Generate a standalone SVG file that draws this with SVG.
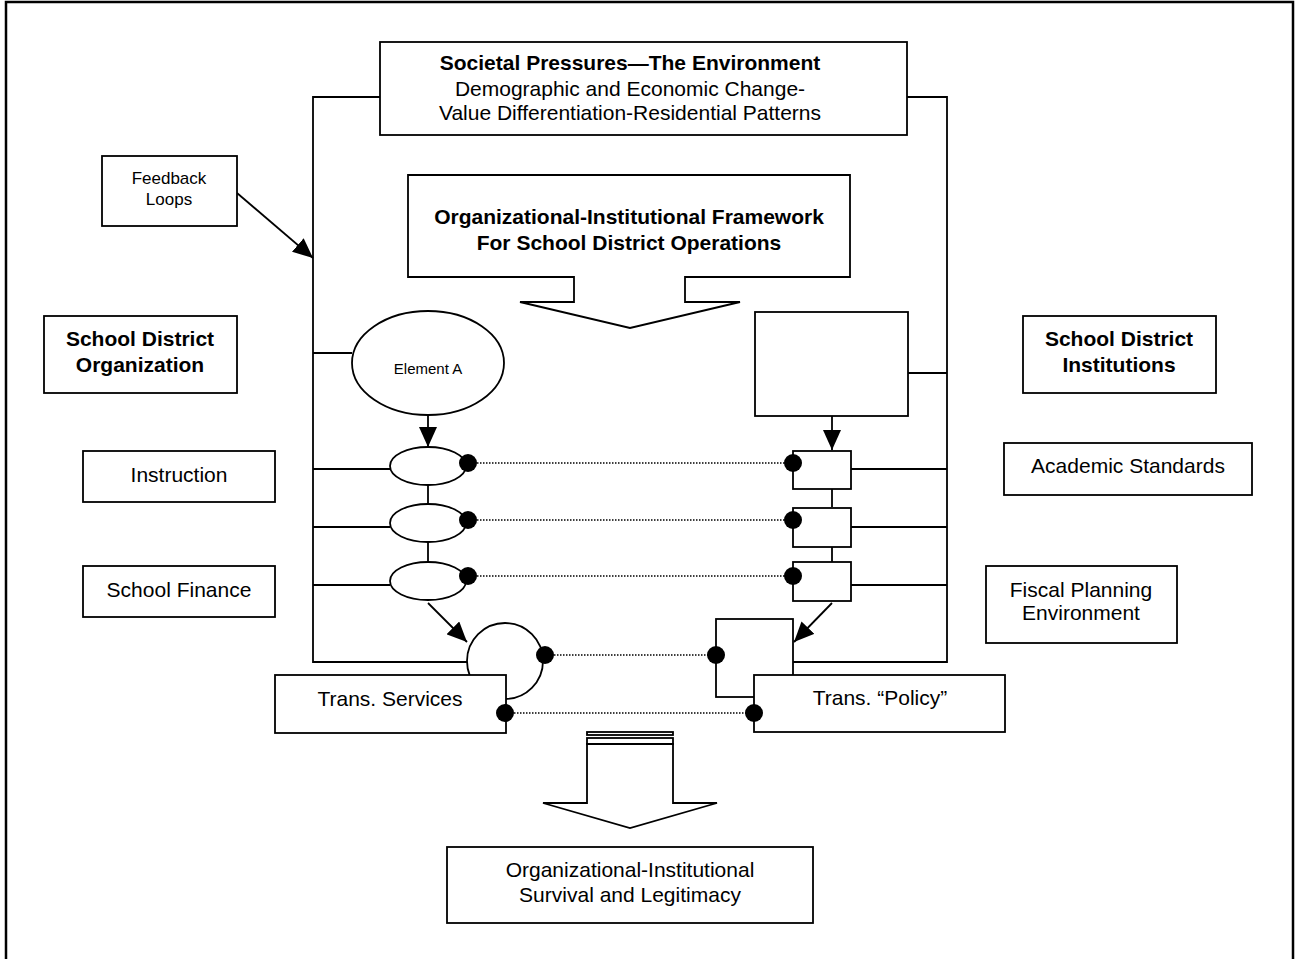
<svg xmlns="http://www.w3.org/2000/svg" width="1297" height="959" viewBox="0 0 1297 959">
<defs>
<style>
.box{fill:#fff;stroke:#000;stroke-width:1.8}
.ln{fill:none;stroke:#000;stroke-width:1.8}
.dot{fill:none;stroke:#000;stroke-width:1.5;stroke-dasharray:1.5 1.5}
.bd{fill:#000}
text{font-family:"Liberation Sans",Arial,sans-serif;font-size:21px;fill:#000;text-anchor:middle}
.b{font-weight:bold}
</style>
<marker id="ah" viewBox="0 0 20 18" refX="20" refY="9" markerWidth="20" markerHeight="18" markerUnits="userSpaceOnUse" orient="auto">
<path d="M0,0 L20,9 L0,18 Z" fill="#000"/>
</marker>
</defs>
<rect x="6" y="2" width="1287" height="1000" fill="#fff" stroke="#000" stroke-width="2.5"/>

<g id="connectors">
<polyline class="ln" points="380,97 313,97 313,662 467,662"/>
<polyline class="ln" points="907,97 947,97 947,662 793,662"/>
<line class="ln" x1="237" y1="193" x2="313" y2="258" marker-end="url(#ah)"/>
<line class="ln" x1="313" y1="353" x2="352" y2="353"/>
<line class="ln" x1="313" y1="469" x2="390" y2="469"/>
<line class="ln" x1="313" y1="527" x2="390" y2="527"/>
<line class="ln" x1="313" y1="585" x2="390" y2="585"/>
<line class="ln" x1="428" y1="485" x2="428" y2="504"/>
<line class="ln" x1="428" y1="542" x2="428" y2="562"/>
<line class="ln" x1="428" y1="415" x2="428" y2="447" marker-end="url(#ah)"/>
<line class="ln" x1="428" y1="603" x2="467" y2="642" marker-end="url(#ah)"/>
<line class="ln" x1="908" y1="373" x2="947" y2="373"/>
<line class="ln" x1="851" y1="469" x2="947" y2="469"/>
<line class="ln" x1="851" y1="527" x2="947" y2="527"/>
<line class="ln" x1="851" y1="585" x2="947" y2="585"/>
<line class="ln" x1="832" y1="489" x2="832" y2="507"/>
<line class="ln" x1="832" y1="547" x2="832" y2="562"/>
<line class="ln" x1="832" y1="416" x2="832" y2="450" marker-end="url(#ah)"/>
<line class="ln" x1="832" y1="603" x2="794" y2="642" marker-end="url(#ah)"/>
<line class="dot" x1="468" y1="463" x2="793" y2="463"/>
<line class="dot" x1="468" y1="520" x2="793" y2="520"/>
<line class="dot" x1="468" y1="576" x2="793" y2="576"/>
<line class="dot" x1="545" y1="655" x2="716" y2="655"/>
<line class="dot" x1="505" y1="713" x2="754" y2="713"/>
</g>

<g id="societal-pressures">
<rect class="box" x="380" y="42" width="527" height="93"/>
<text class="b" x="630" y="70">Societal Pressures—The Environment</text>
<text x="630" y="96">Demographic and Economic Change-</text>
<text x="630" y="120">Value Differentiation-Residential Patterns</text>
</g>

<g id="feedback-loops">
<rect class="box" x="102" y="156" width="135" height="70"/>
<text x="169" y="184" style="font-size:17px">Feedback</text>
<text x="169" y="205" style="font-size:17px">Loops</text>
</g>

<g id="framework">
<path class="box" d="M408,175 H850 V277 H685 V302 H740 L630,328 L520,302 H574 V277 H408 Z"/>
<text class="b" x="629" y="224">Organizational-Institutional Framework</text>
<text class="b" x="629" y="250">For School District Operations</text>
</g>

<g id="school-district-organization">
<rect class="box" x="44" y="316" width="193" height="77"/>
<text class="b" x="140" y="346">School District</text>
<text class="b" x="140" y="372">Organization</text>
</g>

<g id="school-district-institutions">
<rect class="box" x="1023" y="316" width="193" height="77"/>
<text class="b" x="1119" y="346">School District</text>
<text class="b" x="1119" y="372">Institutions</text>
</g>

<g id="element-a">
<ellipse class="box" cx="428" cy="363" rx="76" ry="52"/>
<text x="428" y="374" style="font-size:15px">Element A</text>
</g>

<g id="org-ellipse-1"><ellipse class="box" cx="428" cy="466" rx="38" ry="19"/><circle class="bd" cx="468" cy="463" r="9"/></g>
<g id="org-ellipse-2"><ellipse class="box" cx="428" cy="523" rx="38" ry="19"/><circle class="bd" cx="468" cy="520" r="9"/></g>
<g id="org-ellipse-3"><ellipse class="box" cx="428" cy="581" rx="38" ry="19"/><circle class="bd" cx="468" cy="576" r="9"/></g>

<g id="institution-box">
<rect class="box" x="755" y="312" width="153" height="104"/>
</g>

<g id="inst-rect-1"><rect class="box" x="793" y="451" width="58" height="38"/><circle class="bd" cx="793" cy="463" r="9"/></g>
<g id="inst-rect-2"><rect class="box" x="793" y="508" width="58" height="39"/><circle class="bd" cx="793" cy="520" r="9"/></g>
<g id="inst-rect-3"><rect class="box" x="793" y="562" width="58" height="39"/><circle class="bd" cx="793" cy="576" r="9"/></g>

<g id="instruction">
<rect class="box" x="83" y="451" width="192" height="51"/>
<text x="179" y="482">Instruction</text>
</g>

<g id="school-finance">
<rect class="box" x="83" y="566" width="192" height="51"/>
<text x="179" y="597">School Finance</text>
</g>

<g id="academic-standards">
<rect class="box" x="1004" y="443" width="248" height="52"/>
<text x="1128" y="473">Academic Standards</text>
</g>

<g id="fiscal-planning">
<rect class="box" x="986" y="566" width="191" height="77"/>
<text x="1081" y="597">Fiscal Planning</text>
<text x="1081" y="620">Environment</text>
</g>

<g id="service-circle">
<circle class="box" cx="505" cy="661" r="38"/>
<circle class="bd" cx="545" cy="655" r="9"/>
</g>

<g id="policy-rect">
<rect class="box" x="716" y="619" width="77" height="78"/>
<circle class="bd" cx="716" cy="655" r="9"/>
</g>

<g id="trans-services">
<rect class="box" x="275" y="675" width="231" height="58"/>
<text x="390" y="706">Trans. Services</text>
<circle class="bd" cx="505" cy="713" r="9"/>
</g>

<g id="trans-policy">
<rect class="box" x="754" y="675" width="251" height="57"/>
<text x="880" y="705">Trans. “Policy”</text>
<circle class="bd" cx="754" cy="713" r="9"/>
</g>

<g id="output-arrow">
<rect class="box" x="587" y="732" width="86" height="3"/>
<rect class="box" x="587" y="738" width="86" height="6"/>
<path class="box" d="M587,744 H673 V803 H717 L630,828 L543,803 H587 Z"/>
</g>

<g id="survival">
<rect class="box" x="447" y="847" width="366" height="76"/>
<text x="630" y="877">Organizational-Institutional</text>
<text x="630" y="902">Survival and Legitimacy</text>
</g>
</svg>
